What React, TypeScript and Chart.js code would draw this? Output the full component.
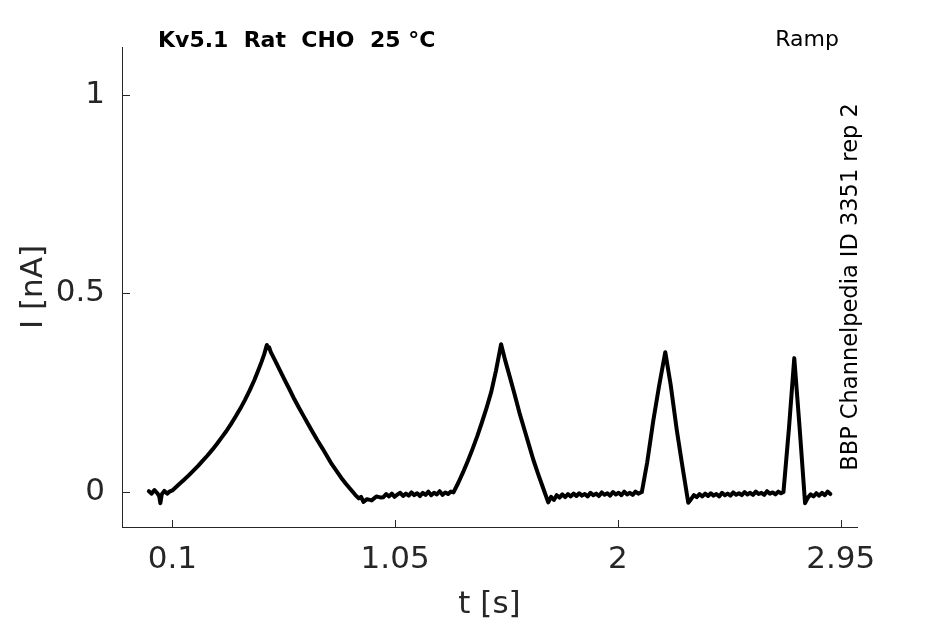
import { Chart, registerables } from "chart.js"
import { useEffect, useRef } from "react"

Chart.register(...registerables)

// ticks shown on the axes
const xTicks = [0.1, 1.05, 2, 2.95]
const yTicks = [0, 0.5, 1]

// current trace, [t (s), I (nA)]
const startBaseline: [number, number][] = [
  [0.000, 0.002], [0.012, -0.004], [0.024, 0.005], [0.036, -0.003], [0.044, -0.010],
  [0.049, -0.028], [0.055, -0.006], [0.066, 0.003], [0.078, -0.004], [0.088, 0.001],
]

const ramp1: [number, number][] = [
  [0.100, 0.004], [0.130, 0.020], [0.150, 0.031], [0.170, 0.042], [0.190, 0.054],
  [0.210, 0.066], [0.230, 0.079], [0.250, 0.092], [0.270, 0.106], [0.290, 0.121],
  [0.310, 0.137], [0.330, 0.153], [0.350, 0.171], [0.370, 0.190], [0.390, 0.210],
  [0.410, 0.232], [0.430, 0.256], [0.450, 0.282], [0.465, 0.304], [0.480, 0.327],
  [0.492, 0.347], [0.503, 0.370], [0.508, 0.362], [0.513, 0.364],
  [0.520, 0.352], [0.540, 0.329], [0.560, 0.305], [0.580, 0.281], [0.600, 0.258],
  [0.620, 0.234], [0.640, 0.212], [0.660, 0.191], [0.680, 0.170], [0.700, 0.149],
  [0.720, 0.129], [0.740, 0.110], [0.760, 0.090], [0.780, 0.070], [0.800, 0.053],
  [0.820, 0.036], [0.840, 0.021], [0.860, 0.007], [0.880, -0.007], [0.895, -0.016],
  [0.905, -0.012], [0.915, -0.025], [0.930, -0.018], [0.950, -0.021], [0.970, -0.011],
  [0.990, -0.014],
]

const baseline2: [number, number][] = [
  [1.000, -0.013], [1.012, -0.005], [1.024, -0.011], [1.036, -0.004], [1.048, -0.012],
  [1.060, -0.006], [1.072, -0.002], [1.084, -0.010], [1.096, -0.004], [1.108, -0.009],
  [1.120, -0.001], [1.132, -0.008], [1.144, -0.003], [1.156, -0.010], [1.168, -0.002],
  [1.180, -0.007], [1.192, 0.001], [1.204, -0.008], [1.216, -0.002], [1.228, -0.006],
  [1.240, 0.002], [1.252, -0.007], [1.264, -0.001], [1.276, -0.005], [1.288, 0.001],
]

const ramp2: [number, number][] = [
  [1.299, -0.001], [1.320, 0.024], [1.340, 0.050], [1.360, 0.078], [1.380, 0.108],
  [1.400, 0.140], [1.420, 0.175], [1.440, 0.212], [1.460, 0.252], [1.480, 0.305],
  [1.502, 0.372], [1.520, 0.330], [1.540, 0.288], [1.560, 0.245], [1.580, 0.200],
  [1.600, 0.160], [1.620, 0.120], [1.640, 0.080], [1.660, 0.045], [1.680, 0.012],
  [1.703, -0.026],
]

const baseline3: [number, number][] = [
  [1.715, -0.012], [1.727, -0.020], [1.739, -0.008], [1.751, -0.014], [1.763, -0.006],
  [1.775, -0.013], [1.787, -0.005], [1.799, -0.011], [1.811, -0.004], [1.823, -0.010],
  [1.835, -0.003], [1.847, -0.009], [1.859, -0.005], [1.871, -0.011], [1.883, -0.002],
  [1.895, -0.008], [1.907, -0.004], [1.919, -0.010], [1.931, -0.001], [1.943, -0.007],
  [1.955, -0.003], [1.967, -0.009], [1.979, 0.000], [1.991, -0.006], [2.003, -0.002],
  [2.015, -0.008], [2.027, 0.001], [2.039, -0.006], [2.051, -0.002], [2.063, -0.007],
  [2.075, 0.001], [2.087, -0.004],
]

const ramp3: [number, number][] = [
  [2.102, 0.000], [2.125, 0.075], [2.151, 0.180], [2.175, 0.265], [2.202, 0.352],
  [2.225, 0.270], [2.251, 0.156], [2.275, 0.065], [2.300, -0.027],
]

const baseline4: [number, number][] = [
  [2.312, -0.018], [2.324, -0.008], [2.336, -0.013], [2.348, -0.005], [2.360, -0.011],
  [2.372, -0.004], [2.384, -0.010], [2.396, -0.003], [2.408, -0.009], [2.420, -0.005],
  [2.432, -0.011], [2.444, -0.002], [2.456, -0.008], [2.468, -0.004], [2.480, -0.009],
  [2.492, -0.001], [2.504, -0.007], [2.516, -0.003], [2.528, -0.008], [2.540, 0.000],
  [2.552, -0.006], [2.564, -0.002], [2.576, -0.007], [2.588, 0.001], [2.600, -0.005],
  [2.612, -0.002], [2.624, -0.007], [2.636, 0.002], [2.648, -0.004], [2.660, -0.001],
  [2.672, -0.006], [2.684, 0.001], [2.696, -0.003],
]

const ramp4: [number, number][] = [
  [2.706, 0.000], [2.730, 0.165], [2.752, 0.337], [2.775, 0.160], [2.798, -0.028],
]

const endBaseline: [number, number][] = [
  [2.810, -0.014], [2.822, -0.006], [2.834, -0.011], [2.846, -0.003], [2.858, -0.009],
  [2.870, -0.002], [2.882, -0.008], [2.894, 0.001], [2.906, -0.005],
]

const titleText = "Kv5.1  Rat  CHO  25 °C"
const protocolText = "Ramp"
const sourceText = "BBP Channelpedia ID 3351 rep 2"

const AXIS_COLOR = "#262626"
const FONT = '"DejaVu Sans", sans-serif'

Chart.defaults.font.family = FONT

const decor = {
  id: "decor",
  afterDraw(chart: any) {
    const { ctx, chartArea, scales } = chart
    ctx.save()
    // inward tick marks
    ctx.strokeStyle = AXIS_COLOR
    ctx.lineWidth = 1
    ctx.beginPath()
    xTicks.forEach(v => {
      const px = Math.round(scales.x.getPixelForValue(v)) + 0.5
      ctx.moveTo(px, chartArea.bottom)
      ctx.lineTo(px, chartArea.bottom - 7)
    })
    yTicks.forEach(v => {
      const py = Math.round(scales.y.getPixelForValue(v)) + 0.5
      ctx.moveTo(chartArea.left, py)
      ctx.lineTo(chartArea.left + 8, py)
    })
    ctx.stroke()

    ctx.fillStyle = "#000"
    ctx.textBaseline = "alphabetic"
    ctx.font = `bold 22px ${FONT}`
    ctx.textAlign = "left"
    ctx.fillText(titleText, 158, 47)

    ctx.font = `22px ${FONT}`
    ctx.textAlign = "right"
    ctx.fillText(protocolText, 839, 46)

    ctx.translate(857, 287)
    ctx.rotate(-Math.PI / 2)
    ctx.textAlign = "center"
    ctx.font = `22.5px ${FONT}`
    ctx.fillText(sourceText, 0, 0)
    ctx.restore()
  },
}

const App = () => {
  const canvasRef = useRef<HTMLCanvasElement>(null)

  useEffect(() => {
    if (!canvasRef.current) return
    const trace = [
      ...startBaseline, ...ramp1, ...baseline2, ...ramp2, ...baseline3,
      ...ramp3, ...baseline4, ...ramp4, ...endBaseline,
    ].map(([x, y]) => ({ x, y }))

    const chart = new Chart(canvasRef.current, {
      type: "line",
      data: {
        datasets: [
          {
            data: trace,
            borderColor: "#000",
            borderWidth: 4,
            borderJoinStyle: "round",
            borderCapStyle: "round",
            pointRadius: 0,
            tension: 0,
          },
        ],
      },
      options: {
        animation: false,
        responsive: false,
        devicePixelRatio: 1,
        layout: { padding: { left: 0, top: 47, right: 88, bottom: 0 } },
        plugins: { legend: { display: false }, tooltip: { enabled: false } },
        scales: {
          x: {
            type: "linear",
            min: -0.1145,
            max: 3.0195,
            afterBuildTicks: (s: any) => { s.ticks = xTicks.map(value => ({ value })) },
            afterFit: (s: any) => { s.height = 97 },
            grid: { display: false, drawTicks: false },
            border: { display: true, color: AXIS_COLOR, width: 1 },
            ticks: {
              color: AXIS_COLOR,
              font: { size: 31 },
              padding: 14,
              maxRotation: 0,
              autoSkip: false,
              callback: (v: any) => String(v),
            },
            title: {
              display: true,
              text: "t [s]",
              color: AXIS_COLOR,
              font: { size: 31 },
              padding: { top: 0, bottom: 0 },
            },
          },
          y: {
            min: -0.088,
            max: 1.12,
            afterBuildTicks: (s: any) => { s.ticks = yTicks.map(value => ({ value })) },
            afterFit: (s: any) => { s.width = 122 },
            grid: { display: false, drawTicks: false },
            border: { display: true, color: AXIS_COLOR, width: 1 },
            ticks: {
              color: AXIS_COLOR,
              font: { size: 31 },
              padding: 17,
              autoSkip: false,
              callback: (v: any) => String(v),
            },
            title: {
              display: true,
              text: "I [nA]",
              color: AXIS_COLOR,
              font: { size: 31 },
              padding: { top: 15, bottom: 0 },
            },
          },
        },
      },
      plugins: [decor],
    })
    return () => {
      chart.destroy()
    }
  }, [])

  return (
    <div style={{ position: "absolute", left: 0, top: 0, width: 945, height: 624, background: "#fff" }}>
      <canvas ref={canvasRef} width={945} height={624} style={{ display: "block" }} />
    </div>
  )
}

export default App
